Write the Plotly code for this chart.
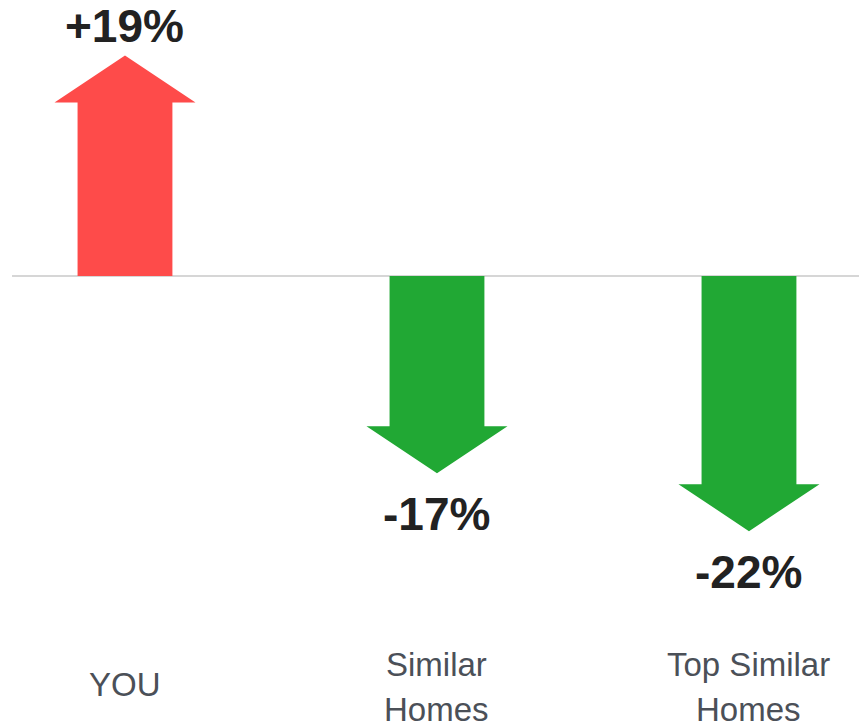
import plotly.graph_objects as go

# Change in energy use versus comparison groups (percent)
categories = ["YOU", "Similar\nHomes", "Top Similar\nHomes"]
changes = [19, -17, -22]
value_labels = ["+19%", "-17%", "-22%"]

UP_COLOR = "#FE4B4A"
DOWN_COLOR = "#21A834"
SHAFT_HALF = 0.152     # half shaft width, x units
HEAD_HALF = 0.226      # half head width, x units
HEAD_LEN = 4.05        # head length, y units (percent)

fig = go.Figure()

for i, v in enumerate(changes):
    sign = 1 if v >= 0 else -1
    neck = v - sign * HEAD_LEN
    xs = [i - SHAFT_HALF, i - SHAFT_HALF, i - HEAD_HALF, i,
          i + HEAD_HALF, i + SHAFT_HALF, i + SHAFT_HALF, i - SHAFT_HALF]
    ys = [0, neck, neck, v, neck, neck, 0, 0]
    color = UP_COLOR if v >= 0 else DOWN_COLOR
    fig.add_trace(go.Scatter(
        x=xs, y=ys, mode="lines", fill="toself",
        fillcolor=color, line=dict(color=color, width=0),
        hoverinfo="skip", showlegend=False,
    ))
    fig.add_annotation(
        x=i, y=v, xref="x", yref="y",
        text="<b>%s</b>" % value_labels[i], showarrow=False,
        yanchor="middle", yshift=30 if v >= 0 else -41,
        font=dict(family="Liberation Sans, Arial, sans-serif", size=46, color="#222222"),
    )

# Category names below the plot, one or two lines each
for i, name in enumerate(categories):
    lines = name.split("\n")
    if len(lines) == 1:
        centers = [684]
    else:
        centers = [664, 709]
    for line, cy in zip(lines, centers):
        fig.add_annotation(
            x=i, y=1 - cy / 728, xref="x", yref="paper",
            text=line, showarrow=False, yanchor="middle",
            font=dict(family="Liberation Sans, Arial, sans-serif", size=33, color="#4b5058"),
        )

# Zero baseline
fig.add_shape(type="line", xref="x", yref="y", x0=-0.362, x1=2.36, y0=0, y1=0,
              line=dict(color="#d6d6d6", width=2), layer="below")

fig.update_xaxes(range=[-0.4006, 2.3526], visible=False, fixedrange=True)
fig.update_yaxes(range=[-38.97, 23.79], visible=False, fixedrange=True)
fig.update_layout(
    width=859, height=728,
    margin=dict(l=0, r=0, t=0, b=0),
    paper_bgcolor="white", plot_bgcolor="white",
)

fig.write_html("out.html", config={"displayModeBar": False})
